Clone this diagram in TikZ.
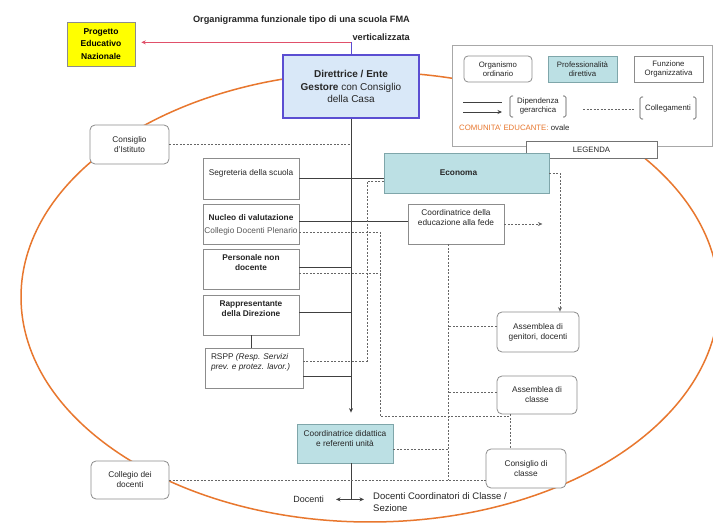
\documentclass[tikz,border=0pt]{standalone}
\usepackage{fontspec}
\setmainfont{Liberation Sans}
\usetikzlibrary{arrows.meta,calc}
\definecolor{tealfill}{HTML}{BCE0E4}
\definecolor{tealdraw}{HTML}{7FA6AA}
\definecolor{ovalcol}{HTML}{E8772E}
\definecolor{dirdraw}{HTML}{5B4ED2}
\definecolor{dirfill}{HTML}{D9E8F8}
\definecolor{redarrow}{HTML}{E0506A}
\definecolor{boxline}{HTML}{8C8C8C}
\definecolor{txtcol}{HTML}{262626}
\definecolor{legline}{HTML}{A8A8A8}
\definecolor{progfill}{HTML}{FFFF00}
\newcommand{\tbx}[4]{\parbox[c][#2pt][t]{#1pt}{\vspace*{#3pt}\centering #4\par}}
\newcommand{\tbxl}[4]{\parbox[c][#2pt][t]{#1pt}{\vspace*{#3pt}\raggedright\leftskip=6pt #4\par}}
\tikzset{
  base/.style={font=\fontsize{8.3}{10}\selectfont, text=txtcol, inner sep=0pt},
  fbox/.style={base, draw=boxline, line width=0.8pt, fill=white},
  rbox/.style={fbox, rounded corners=5pt, align=center},
  pbox/.style={base, draw=tealdraw, line width=0.8pt, fill=tealfill},
  legfont/.style={font=\fontsize{7.8}{9.3}\selectfont},
  solidl/.style={draw=black!75, line width=0.7pt},
  link/.style={draw=black!60, line width=0.7pt, dash pattern=on 2pt off 1.5pt},
  tip/.style={-{Stealth[length=4.5pt,width=4pt]}},
}
\begin{document}
\begin{tikzpicture}[x=1pt,y=-1pt]
\useasboundingbox (0,0) rectangle (713,529);
\fill[white] (0,0) rectangle (713,529);

% community oval
\draw[ovalcol, line width=1.5pt] (370,297) ellipse [x radius=349, y radius=225];

% title
\node[base, font=\fontsize{9.2}{17.5}\selectfont\bfseries, text=black!85, align=right, anchor=north east] (title) at (410,16)
  {Organigramma funzionale tipo di una scuola FMA\\verticalizzata};

% top
\node[draw=boxline, fill=progfill, line width=0.6pt, minimum width=68, minimum height=44, inner sep=0pt,
  align=center, font=\fontsize{8.5}{12.5}\selectfont\bfseries] (prog) at (101,44) {Progetto\\Educativo\\Nazionale};
\node[draw=dirdraw, fill=dirfill, line width=1.3pt, minimum width=136, minimum height=63, inner sep=0pt,
  align=center, text=txtcol, font=\fontsize{10}{12.5}\selectfont] (dir) at (351,86.5)
  {\textbf{Direttrice / Ente}\\\textbf{Gestore} con Consiglio\\della Casa};

% legend
\node[draw=legline, fill=white, line width=0.6pt, minimum width=260, minimum height=101, inner sep=0pt] (leg) at (582,96) {};
\node[rbox, legfont, rounded corners=4pt, minimum width=68, minimum height=26] (lorg) at (498,69) {Organismo\\ordinario};
\node[pbox, legfont, align=center, minimum width=69, minimum height=26] (lprof) at (582.5,69) {Professionalità\\direttiva};
\node[fbox, legfont, align=center, minimum width=69, minimum height=26] (lfunz) at (668.5,69) {Funzione\\Organizzativa};
\coordinate (ls1) at (463,102); \coordinate (le1) at (502,102);
\coordinate (ls2) at (463,112); \coordinate (le2) at (502,112);
\draw[solidl] (ls1) -- (le1);
\draw[solidl,tip] (ls2) -- (le2);
\node[base, legfont, align=center] (ldip) at (538,106) {Dipendenza\\gerarchica};
\draw[black!70, line width=0.6pt, rounded corners=1.5pt] (513,96) -- (510,96) -- (510,117) -- (513,117);
\draw[black!70, line width=0.6pt, rounded corners=1.5pt] (563,96) -- (566,96) -- (566,117) -- (563,117);
\coordinate (ls3) at (583,109); \coordinate (le3) at (635,109);
\draw[link] (ls3) -- (le3);
\node[base, legfont] (lcoll) at (668,108) {Collegamenti};
\draw[black!70, line width=0.6pt, rounded corners=1.5pt] (643,97) -- (640,97) -- (640,119) -- (643,119);
\draw[black!70, line width=0.6pt, rounded corners=1.5pt] (693,97) -- (696,97) -- (696,119) -- (693,119);
\node[base, legfont, anchor=west] (lcom) at (459,128) {\textcolor{ovalcol}{COMUNITA' EDUCANTE:} ovale};
\node[fbox, legfont, draw=black!55, minimum width=131, minimum height=17] (legt) at (591.5,149.5) {LEGENDA};

% boxes
\node[rbox, minimum width=79, minimum height=39] (cist) at (129.5,144.5) {Consiglio\\d'Istituto};
\node[fbox] (seg) at (251,178.5) {\tbx{96}{41}{11}{Segreteria della scuola}};
\node[fbox] (nuc) at (251,224) {\tbx{96}{40}{10}{\textbf{Nucleo di valutazione}\\[3pt]{\color{black!65}Collegio Docenti Plenario}}};
\node[fbox] (pers) at (251,269) {\tbx{96}{40}{5}{\textbf{Personale non}\\\textbf{docente}}};
\node[fbox] (rapp) at (251,315) {\tbx{96}{40}{6}{\textbf{Rappresentante}\\\textbf{della Direzione}}};
\node[fbox] (rspp) at (254,368) {\tbxl{98}{40}{5}{RSPP \textit{(Resp. Servizi}\\\textit{prev. e protez. lavor.)}}};
\node[pbox, minimum width=165, minimum height=40, font=\fontsize{8.3}{10}\selectfont\bfseries] (econ) at (466.5,173) {Economa\hspace*{16pt}};
\node[fbox] (fede) at (456,224) {\tbx{96}{40}{5}{Coordinatrice della\\educazione alla fede}};
\node[rbox, minimum width=82, minimum height=40] (assGen) at (538,332) {Assemblea di\\genitori, docenti};
\node[rbox, minimum width=80, minimum height=38] (assCl) at (537,395) {Assemblea di\\classe};
\node[rbox, minimum width=80, minimum height=39] (consCl) at (526,468.5) {Consiglio di\\classe};
\node[pbox] (didat) at (345,443.5) {\tbx{96}{39}{6}{Coordinatrice didattica\\e referenti unità}};
\node[rbox, minimum width=78, minimum height=38] (collDoc) at (130,480) {Collegio dei\\docenti};
\node[base, font=\fontsize{9}{11}\selectfont, text=black!85, anchor=east] (doc) at (324,499) {Docenti};
\node[base, font=\fontsize{9.5}{12}\selectfont, text=black!85, align=left, anchor=north west] (dcc) at (373,492)
  {Docenti Coordinatori di Classe /\\Sezione};

% helper coordinates
\coordinate (v1) at (367,0);
\coordinate (v2) at (380,0);
\coordinate (v3) at (448,0);
\coordinate (h1) at (510,416);

% solid connectors
\draw[dirdraw, line width=0.9pt] (dir.north) -- ++(0,-12) coordinate (rt);
\draw[redarrow, line width=1pt, tip, shorten >=6pt] (rt) -- (rt -| prog.east);
\draw[solidl, tip, shorten >=11pt] (dir.south) -- (dir.south |- didat.north);
\draw[solidl] (seg.east) -- (seg.east -| econ.west);
\path (nuc.east) ++(0,-3) coordinate (n0);
\draw[solidl] (n0) -- (n0 -| fede.west);
\path (pers.east) ++(0,-2) coordinate (p0);
\draw[solidl] (p0) -- (p0 -| dir.south);
\path (rapp.east) ++(0,-3) coordinate (q0);
\draw[solidl] (q0) -- (q0 -| dir.south);
\draw[solidl] (rapp.south) -- (rapp.south |- rspp.north);
\path (rspp.east) ++(0,8) coordinate (r0);
\draw[solidl] (r0) -- (r0 -| dir.south);
\draw[solidl] (didat.south -| dir.south) -- ++(0,36) coordinate (jn);
\draw[solidl, tip, shorten >=12pt] (jn) -- (jn -| doc.east);
\draw[solidl, tip, shorten >=9pt] (jn) -- (jn -| dcc.west);

% dashed connectors
\draw[link] (cist.east) -- (cist.east -| dir.south);
\draw[link, tip] (econ.east) -| ([xshift=22pt]assGen.north);
\path (econ.west) ++(0,8) coordinate (e1);
\path (rspp.east) ++(0,-7) coordinate (r1);
\draw[link] (e1) -| (v1 |- r1) -- (r1);
\path (nuc.east) ++(0,8) coordinate (n1);
\draw[link] (n1) -| (v2 |- h1) -- (h1);
\path (pers.east) ++(0,4) coordinate (p1);
\draw[link] (p1) -- (p1 -| v2);
\draw[link] (assCl.south -| h1) -- (consCl.north -| h1);
\draw[link] (collDoc.east) -- (collDoc.east -| consCl.west);
\draw[link] (fede.south -| v3) -- (v3 |- collDoc.east);
\path (assGen.west) ++(0,-6) coordinate (a1);
\draw[link] (a1) -- (a1 -| v3);
\path (assCl.west) ++(0,-3) coordinate (a2);
\draw[link] (a2) -- (a2 -| v3);
\path (didat.east) ++(0,6) coordinate (d1);
\draw[link] (d1) -- (d1 -| v3);
\draw[link, tip] (fede.east) -- ++(38,0) coordinate (fedeEnd);
\end{tikzpicture}
\end{document}
